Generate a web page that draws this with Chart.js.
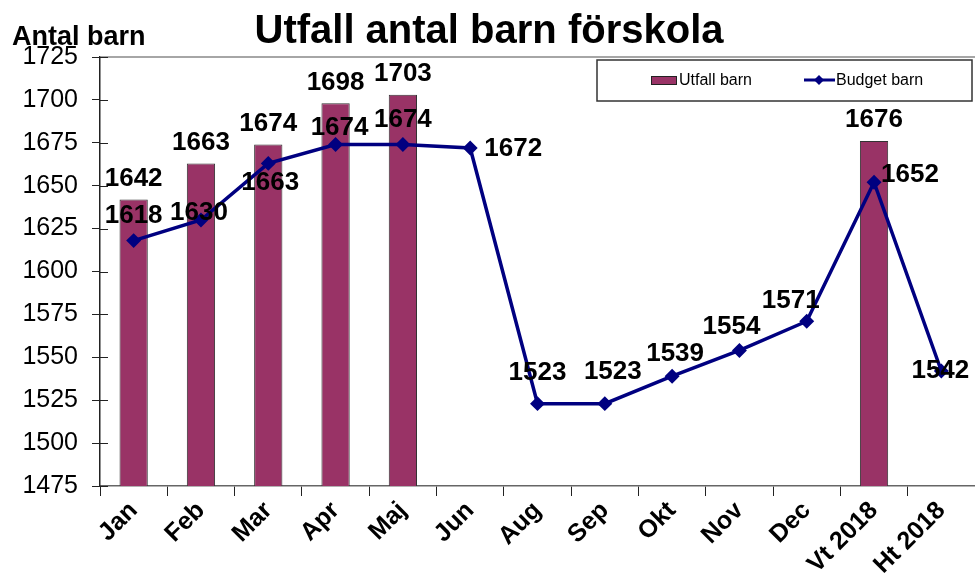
<!DOCTYPE html>
<html>
<head>
<meta charset="utf-8">
<script src="https://cdn.jsdelivr.net/npm/chart.js@4/dist/chart.umd.min.js"></script>
<style>
  html, body { margin: 0; padding: 0; background: #fff; }
  #wrap { width: 975px; height: 582px; position: relative; }
</style>
</head>
<body>
<div id="wrap"><canvas id="c" width="975" height="582"></canvas></div>
<script>
// ---- data ----
const categories = ['Jan', 'Feb', 'Mar', 'Apr', 'Maj', 'Jun', 'Aug', 'Sep', 'Okt', 'Nov', 'Dec', 'Vt 2018', 'Ht 2018'];
const utfallBarn = [1642, 1663, 1674, 1698, 1703, null, null, null, null, null, null, 1676, null];
const budgetBarn = [1618, 1630, 1663, 1674, 1674, 1672, 1523, 1523, 1539, 1554, 1571, 1652, 1542];
const yMin = 1475, yMax = 1725, yStep = 25;
const chartTitle = 'Utfall antal barn förskola';
const yAxisTitle = 'Antal barn';
const seriesNames = ['Utfall barn', 'Budget barn'];

// label placement (style only): offsets of label centre from the point
const budgetLabelOffsets = [[0,-25],[-2,-7],[2,19],[4,-17],[0,-25],[43,1],[0,-31],[8,-32],[3,-22],[-8,-24],[-16,-20],[36,-7],[-1,0]];

const FONT = '"Liberation Sans", Arial, sans-serif';

const decor = {
  id: 'decor',
  beforeDraw(chart) {
    const ctx = chart.ctx;
    ctx.save();
    ctx.fillStyle = '#fff';
    ctx.fillRect(0, 0, chart.width, chart.height);
    ctx.restore();
  },
  afterDraw(chart) {
    const ctx = chart.ctx;
    const a = chart.chartArea;
    const ys = chart.scales.y;
    ctx.save();
    // top border
    ctx.strokeStyle = '#888';
    ctx.lineWidth = 1.5;
    ctx.beginPath();
    ctx.moveTo(a.left, a.top);
    ctx.lineTo(a.right, a.top);
    ctx.stroke();
    // inner y ticks
    ctx.strokeStyle = '#222';
    ctx.lineWidth = 1;
    ys.ticks.forEach((t) => {
      const y = Math.round(ys.getPixelForValue(t.value)) + 0.5;
      ctx.beginPath();
      ctx.moveTo(a.left, y);
      ctx.lineTo(a.left + 8, y);
      ctx.stroke();
    });
    // title
    ctx.fillStyle = '#000';
    ctx.textAlign = 'center';
    ctx.textBaseline = 'alphabetic';
    ctx.font = 'bold 40px ' + FONT;
    ctx.fillText(chartTitle, 489, 43);
    ctx.textAlign = 'left';
    ctx.font = 'bold 27px ' + FONT;
    ctx.fillText(yAxisTitle, 12, 45);
    // legend
    const lx = 597, ly = 60, lw = 375, lh = 41;
    ctx.fillStyle = '#fff';
    ctx.fillRect(lx, ly, lw, lh);
    ctx.strokeStyle = '#333';
    ctx.lineWidth = 1.5;
    ctx.strokeRect(lx, ly, lw, lh);
    ctx.fillStyle = '#993366';
    ctx.fillRect(651, 76, 26, 9);
    ctx.strokeStyle = '#222';
    ctx.lineWidth = 1;
    ctx.strokeRect(651.5, 76.5, 25, 8);
    ctx.fillStyle = '#000';
    ctx.font = '16px ' + FONT;
    ctx.textBaseline = 'middle';
    ctx.fillText(seriesNames[0], 679, 81);
    ctx.strokeStyle = '#000080';
    ctx.lineWidth = 3;
    ctx.beginPath();
    ctx.moveTo(804, 80);
    ctx.lineTo(835, 80);
    ctx.stroke();
    ctx.fillStyle = '#000080';
    ctx.beginPath();
    ctx.moveTo(819, 75); ctx.lineTo(824, 80); ctx.lineTo(819, 85); ctx.lineTo(814, 80);
    ctx.closePath(); ctx.fill();
    ctx.fillStyle = '#000';
    ctx.fillText(seriesNames[1], 836, 81);
    // data labels
    ctx.font = 'bold 26px ' + FONT;
    ctx.textAlign = 'center';
    ctx.textBaseline = 'middle';
    const m0 = chart.getDatasetMeta(0);
    m0.data.forEach((el, i) => {
      const v = utfallBarn[i];
      if (v == null) return;
      ctx.fillText(String(v), el.x, el.y - 21);
    });
    const m1 = chart.getDatasetMeta(1);
    m1.data.forEach((el, i) => {
      const v = budgetBarn[i];
      if (v == null) return;
      const o = budgetLabelOffsets[i];
      ctx.fillText(String(v), el.x + o[0], el.y + o[1]);
    });
    ctx.restore();
  }
};

new Chart(document.getElementById('c'), {
  data: {
    labels: categories,
    datasets: [
      {
        type: 'bar',
        label: seriesNames[0],
        data: utfallBarn,
        backgroundColor: '#993366',
        borderColor: '#333333',
        borderWidth: 1,
        categoryPercentage: 1,
        barPercentage: 0.42,
        order: 2
      },
      {
        type: 'line',
        label: seriesNames[1],
        data: budgetBarn,
        borderColor: '#000080',
        backgroundColor: '#000080',
        borderWidth: 3.5,
        pointStyle: 'rectRot',
        pointRadius: 5,
        pointHoverRadius: 5,
        tension: 0,
        clip: false,
        order: 1
      }
    ]
  },
  options: {
    responsive: false,
    animation: false,
    events: [],
    layout: { autoPadding: false, padding: { top: 57, right: 0, left: 0, bottom: 0 } },
    plugins: {
      legend: { display: false },
      title: { display: false },
      tooltip: { enabled: false }
    },
    scales: {
      x: {
        grid: { display: true, drawOnChartArea: false, offset: true, tickLength: 10, color: '#222', tickWidth: 1 },
        border: { display: true, color: '#666', width: 1.5 },
        ticks: {
          color: '#000',
          font: { family: FONT, size: 25, weight: 'bold' },
          maxRotation: 45, minRotation: 45,
          autoSkip: false,
          padding: 0
        },
        afterFit(s) { s.height = 96; s.paddingRight = 0; s.paddingLeft = 0; }
      },
      y: {
        min: yMin, max: yMax,
        grid: { display: true, drawOnChartArea: false, tickLength: 8, color: '#222' },
        border: { display: true, color: '#222', width: 1.5 },
        ticks: {
          stepSize: yStep,
          color: '#000',
          font: { family: FONT, size: 25 },
          padding: 14,
          callback: (v) => String(v)
        },
        afterFit(s) { s.width = 100; s.paddingTop = 0; s.paddingBottom = 0; }
      }
    }
  },
  plugins: [decor]
});
</script>
</body>
</html>
